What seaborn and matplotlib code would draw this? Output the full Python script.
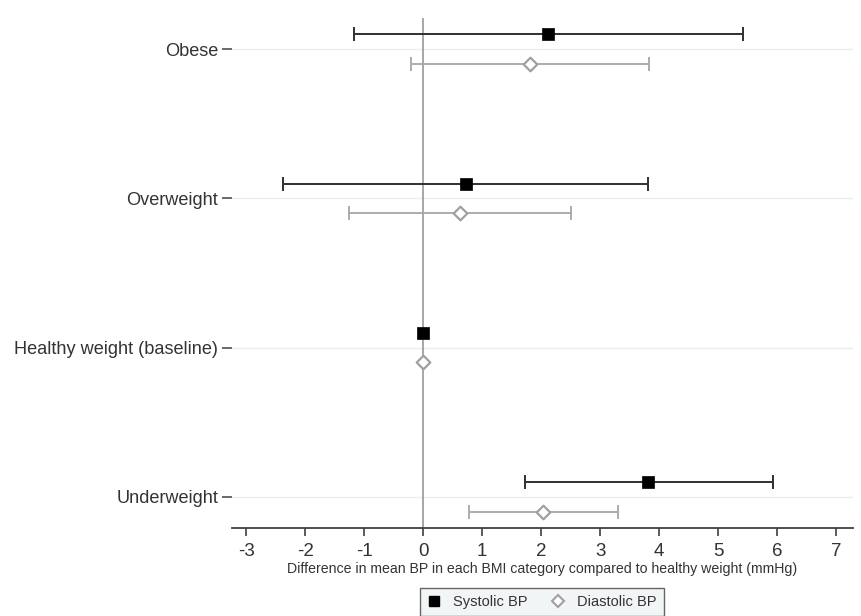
import matplotlib
matplotlib.use("Agg")
import matplotlib.pyplot as plt
from matplotlib.lines import Line2D
import seaborn as sns
import pandas as pd
import numpy as np

categories = ["Underweight", "Healthy weight (baseline)", "Overweight", "Obese"]
systolic_est = [3.82, 0.0, 0.72, 2.12]
systolic_lo = [1.73, 0.0, -2.37, -1.17]
systolic_hi = [5.93, 0.0, 3.81, 5.42]
diastolic_est = [2.04, 0.0, 0.63, 1.82]
diastolic_lo = [0.78, 0.0, -1.26, -0.20]
diastolic_hi = [3.31, 0.0, 2.51, 3.83]
xticks = [-3, -2, -1, 0, 1, 2, 3, 4, 5, 6, 7]
xlabel = "Difference in mean BP in each BMI category compared to healthy weight (mmHg)"

sns.set_theme(style="white")
plt.rcParams["font.family"] = ["Liberation Sans", "DejaVu Sans"]
plt.rcParams["axes.unicode_minus"] = False

pos = np.arange(len(categories))
off = 0.1
df = pd.concat([
    pd.DataFrame({"cat": categories, "y": pos + off, "est": systolic_est,
                  "lo": systolic_lo, "hi": systolic_hi, "series": "Systolic BP"}),
    pd.DataFrame({"cat": categories, "y": pos - off, "est": diastolic_est,
                  "lo": diastolic_lo, "hi": diastolic_hi, "series": "Diastolic BP"}),
], ignore_index=True)

fig = plt.figure(figsize=(8.61, 6.16), dpi=100)
ax = fig.add_axes([0.2695, 0.1429, 0.7213, 0.8279])

for p in pos:
    ax.axhline(p, color="#e6eff0", lw=1.0, zorder=0)
ax.axvline(0, color="#a0a0a0", lw=1.3, zorder=1)

styles = {
    "Systolic BP": dict(color="#303030", lw=1.4),
    "Diastolic BP": dict(color="#a6a6a6", lw=1.3),
}

for name, st in styles.items():
    sub = df[df.series == name]
    has_ci = sub[(sub.hi - sub.lo) > 0]
    ax.errorbar(has_ci.est, has_ci.y,
                xerr=[has_ci.est - has_ci.lo, has_ci.hi - has_ci.est],
                fmt="none", ecolor=st["color"], elinewidth=st["lw"],
                capsize=5, capthick=st["lw"], zorder=2)

sns.scatterplot(data=df[df.series == "Systolic BP"], x="est", y="y", marker="s",
                s=80, color="black", edgecolor="black", linewidth=0.5, ax=ax, zorder=3, legend=False)
sns.scatterplot(data=df[df.series == "Diastolic BP"], x="est", y="y", marker="D",
                s=48, facecolor="white", edgecolor="#a0a0a0", linewidth=1.6, ax=ax, zorder=3, legend=False)

ax.set_xlim(-3.24, 7.29)
ax.set_ylim(-0.21, 3.21)
ax.set_xticks(xticks)
ax.set_xticklabels([str(t) for t in xticks])
ax.set_yticks(pos)
ax.set_yticklabels(categories)

for s in ["top", "right", "left"]:
    ax.spines[s].set_visible(False)
ax.spines["bottom"].set_color("#404040")
ax.spines["bottom"].set_linewidth(1.3)

ax.tick_params(axis="x", direction="out", length=6, width=1.2, color="#404040",
               labelsize=13.5, labelcolor="#333333", pad=5, bottom=True)
ax.tick_params(axis="y", direction="out", length=7, width=1.2, color="#505050",
               labelsize=13.1, labelcolor="#333333", pad=3, left=True)

ax.set_xlabel(xlabel, fontsize=10.2, color="#333333", labelpad=1)
ax.set_ylabel("")

handles = [
    Line2D([], [], linestyle="none", marker="s", ms=7, mfc="black", mec="black"),
    Line2D([], [], linestyle="none", marker="D", ms=6, mfc="white", mec="#a0a0a0", mew=1.5),
]
leg = fig.legend(handles, ["Systolic BP", "Diastolic BP"], loc="upper center",
                 bbox_to_anchor=(0.6295, 0.058), ncol=2, fontsize=10.5, frameon=True,
                 fancybox=False, edgecolor="#404040", facecolor="#eef3f3",
                 handlelength=1.0, handletextpad=0.8, columnspacing=1.6,
                 borderpad=0.5)
leg.get_frame().set_linewidth(1.0)
for t in leg.get_texts():
    t.set_color("#333333")

fig.savefig("out.png", dpi=100)
